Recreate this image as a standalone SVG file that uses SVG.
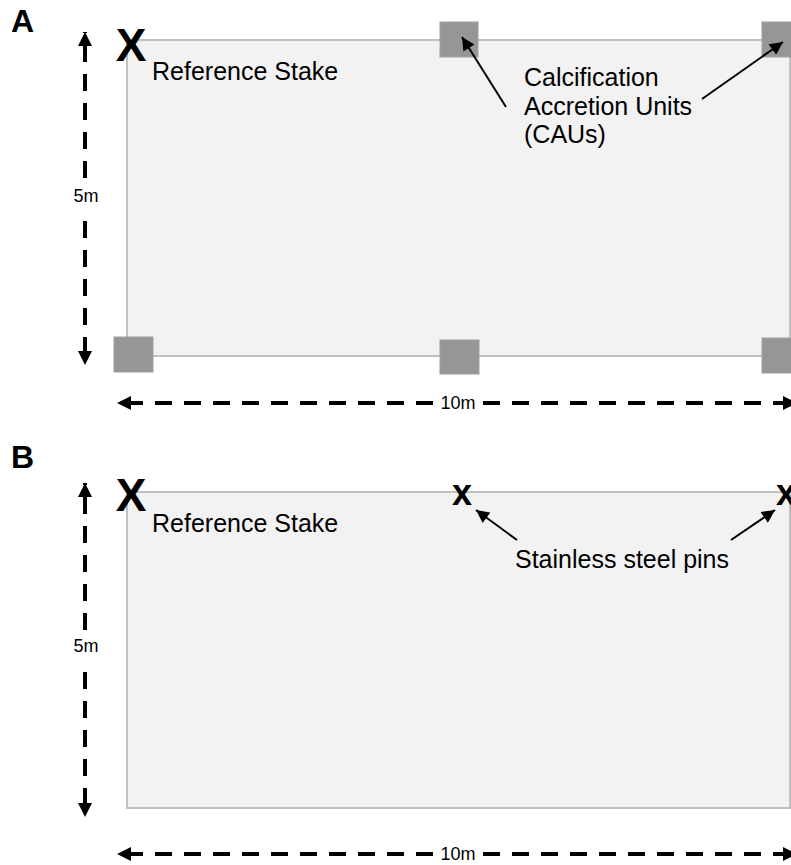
<svg xmlns="http://www.w3.org/2000/svg" width="791" height="865" viewBox="0 0 791 865">
<style>
.plot{fill:#f2f2f2;stroke:#c0c0c0;stroke-width:2}
.cau{fill:#959695;stroke:#a0a0a0;stroke-width:1}
.t{font-family:"Liberation Sans",Arial,sans-serif;fill:#000}
.dim{fill:none;stroke:#000;stroke-width:4;stroke-dasharray:17 12}
.ptr{fill:none;stroke:#000;stroke-width:2}
</style>
<defs>
<marker id="big" viewBox="0 0 10 10" refX="10" refY="5" markerWidth="14" markerHeight="15" markerUnits="userSpaceOnUse" orient="auto"><path d="M0,0 L10,5 L0,10 Z" fill="#000"/></marker>
<marker id="sm" viewBox="0 0 10 10" refX="10" refY="5" markerWidth="14" markerHeight="13" markerUnits="userSpaceOnUse" orient="auto"><path d="M0,0 L10,5 L0,10 Z" fill="#000"/></marker>
</defs>
<text class="t" x="11" y="32" font-size="32" font-weight="bold">A</text>
<g id="plotA">
<rect class="plot" x="127" y="40" width="663" height="316"/>
</g>
<g id="cauA1"><rect class="cau" x="440" y="22" width="38" height="35"/></g>
<g id="cauA2"><rect class="cau" x="762" y="22" width="38" height="35"/></g>
<g id="cauA3"><rect class="cau" x="114" y="337" width="39" height="35"/></g>
<g id="cauA4"><rect class="cau" x="440" y="340" width="39" height="34"/></g>
<g id="cauA5"><rect class="cau" x="762" y="338" width="38" height="35"/></g>
<g id="stakeA"><text class="t" x="131" y="61" font-size="46" font-weight="bold" text-anchor="middle">X</text></g>
<text class="t" x="152" y="80" font-size="25">Reference Stake</text>
<text class="t" x="524" y="86" font-size="25">Calcification</text>
<text class="t" x="524" y="115" font-size="25">Accretion Units</text>
<text class="t" x="524" y="143" font-size="25">(CAUs)</text>
<text class="t" x="86" y="202" font-size="18" text-anchor="middle">5m</text>
<text class="t" x="458" y="409" font-size="18" text-anchor="middle">10m</text>

<text class="t" x="11" y="468" font-size="32" font-weight="bold">B</text>
<g id="plotB">
<rect class="plot" x="127" y="492" width="663" height="316"/>
</g>
<g id="stakeB"><text class="t" x="131" y="511" font-size="46" font-weight="bold" text-anchor="middle">X</text></g>
<g id="pinB1"><text class="t" x="462" y="505" font-size="36" font-weight="bold" text-anchor="middle">x</text></g>
<g id="pinB2"><text class="t" x="786" y="505" font-size="36" font-weight="bold" text-anchor="middle">x</text></g>
<text class="t" x="152" y="532" font-size="25">Reference Stake</text>
<text class="t" x="515" y="568" font-size="25">Stainless steel pins</text>
<text class="t" x="86" y="652" font-size="18" text-anchor="middle">5m</text>
<text class="t" x="458" y="860" font-size="18" text-anchor="middle">10m</text>

<g id="connectors">
<path class="dim" d="M85,178 V32" marker-end="url(#big)"/>
<path class="dim" d="M85,221 V365" marker-end="url(#big)"/>
<path class="dim" d="M433,403 H117" marker-end="url(#big)"/>
<path class="dim" d="M483,403 H797" marker-end="url(#big)"/>
<path class="ptr" d="M506,107 L462,37" marker-end="url(#sm)"/>
<path class="ptr" d="M702,99 L783,42" marker-end="url(#sm)"/>
<path class="dim" d="M85,630 V483" marker-end="url(#big)"/>
<path class="dim" d="M85,672 V817" marker-end="url(#big)"/>
<path class="dim" d="M433,854 H117" marker-end="url(#big)"/>
<path class="dim" d="M483,854 H797" marker-end="url(#big)"/>
<path class="ptr" d="M517,540 L476,510" marker-end="url(#sm)"/>
<path class="ptr" d="M731,540 L775,510" marker-end="url(#sm)"/>
</g>
</svg>
